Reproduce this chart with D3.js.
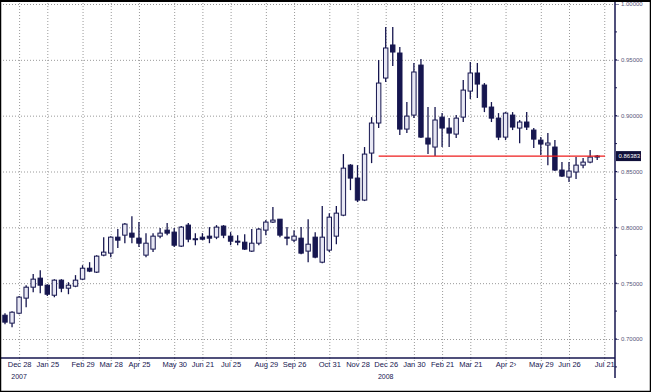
<!DOCTYPE html>
<html>
<head>
<meta charset="utf-8">
<script src="https://cdn.jsdelivr.net/npm/d3@7"></script>
<style>
  body { margin: 0; background: #fff; }
  svg { display: block; font-family: "Liberation Sans Narrow", "Liberation Sans", sans-serif; }
  .grid line { stroke: #9a9a9a; stroke-dasharray: 1,2; }
  .grid path { display: none; }
</style>
</head>
<body>
<svg id="chart"></svg>
<script>
// weekly candles, Dec 2006 - Jul 2008
var opens = [0.7213,0.7142,0.7231,0.7366,0.7464,0.7545,0.7482,0.7392,0.7527,0.7455,
  0.7473,0.7536,0.7634,0.7599,0.7751,0.7769,0.7912,0.7930,0.7948,0.7903,
  0.7751,0.7805,0.7921,0.7975,0.7957,0.7832,0.8020,0.7890,0.7912,0.7921,
  0.7912,0.8011,0.7921,0.7876,0.7867,0.7787,0.7858,0.7975,0.8047,0.8073,
  0.7912,0.7885,0.7903,0.7787,0.7912,0.7688,0.7796,0.7921,0.8109,0.8557,
  0.8441,0.8244,0.8665,0.8934,0.9337,0.9633,0.9561,0.8880,0.9005,0.9453,
  0.8799,0.8719,0.8987,0.8889,0.8835,0.8987,0.9220,0.9382,0.9274,0.9077,
  0.8978,0.8808,0.9005,0.8889,0.8943,0.8871,0.8781,0.8737,0.8719,0.8513,
  0.8450,0.8495,0.8557,0.8584,0.8629];
var highs = [0.7231,0.7249,0.7385,0.7482,0.7581,0.7616,0.7491,0.7536,0.7536,0.7509,
  0.7572,0.7661,0.7688,0.7751,0.7912,0.7921,0.7984,0.8038,0.8100,0.8047,
  0.7948,0.7948,0.7993,0.8038,0.7993,0.8011,0.8038,0.7948,0.7948,0.8002,
  0.8020,0.8020,0.7957,0.7930,0.7939,0.7984,0.7993,0.8065,0.8181,0.8073,
  0.8002,0.7975,0.8002,0.8073,0.7957,0.8190,0.8127,0.8190,0.8656,0.8566,
  0.8557,0.8719,0.8987,0.9498,0.9794,0.9794,0.9615,0.9122,0.9471,0.9507,
  0.9077,0.9077,0.9023,0.8978,0.9005,0.9319,0.9480,0.9471,0.9292,0.9122,
  0.9023,0.9032,0.9032,0.8961,0.9032,0.8889,0.8808,0.8844,0.8781,0.8584,
  0.8584,0.8629,0.8620,0.8692,0.8647];
var lows = [0.7133,0.7106,0.7222,0.7285,0.7419,0.7410,0.7384,0.7375,0.7419,0.7401,
  0.7464,0.7527,0.7599,0.7590,0.7742,0.7733,0.7814,0.7858,0.7858,0.7823,
  0.7733,0.7778,0.7903,0.7930,0.7823,0.7823,0.7867,0.7840,0.7885,0.7858,
  0.7894,0.7903,0.7840,0.7840,0.7796,0.7778,0.7840,0.7930,0.8038,0.7912,
  0.7840,0.7867,0.7760,0.7688,0.7724,0.7679,0.7778,0.7849,0.8100,0.8333,
  0.8226,0.8235,0.8575,0.8889,0.9301,0.9444,0.8826,0.8844,0.8978,0.8799,
  0.8656,0.8638,0.8719,0.8719,0.8799,0.8943,0.9149,0.9158,0.9032,0.8943,
  0.8781,0.8781,0.8871,0.8754,0.8871,0.8710,0.8647,0.8557,0.8504,0.8450,
  0.8405,0.8432,0.8530,0.8575,0.8602];
var closes = [0.7151,0.7240,0.7375,0.7464,0.7536,0.7482,0.7401,0.7527,0.7455,0.7482,
  0.7527,0.7634,0.7608,0.7742,0.7778,0.7912,0.7885,0.8029,0.7912,0.7858,
  0.7858,0.7921,0.7948,0.7948,0.7840,0.8002,0.7894,0.7898,0.7894,0.7903,
  0.8002,0.7930,0.7876,0.7867,0.7805,0.7858,0.7984,0.8047,0.8065,0.7930,
  0.7903,0.7921,0.7769,0.7849,0.7733,0.7912,0.8091,0.8127,0.8530,0.8441,
  0.8244,0.8656,0.8934,0.9292,0.9606,0.9570,0.8880,0.8996,0.9391,0.8808,
  0.8746,0.8961,0.8889,0.8844,0.8978,0.9229,0.9382,0.9283,0.9077,0.8978,
  0.8808,0.9023,0.8898,0.8943,0.8898,0.8790,0.8746,0.8755,0.8513,0.8459,
  0.8504,0.8557,0.8584,0.8629,0.8638];

var tickWeeks = [2,6,11,15,19,24,28,32,37,41,46,50,54,58,62,66,71,76,80,85];
var tickLabels = ["Dec 28","Jan 25","Feb 29","Mar 28","Apr 25","May 30","Jun 21","Jul 25",
  "Aug 29","Sep 26","Oct 31","Nov 28","Dec 26","Jan 30","Feb 21","Mar 21","Apr 2\u203A",
  "May 29","Jun 26","Jul 21"];
var yearWeeks = [2,54];
var yearLabels = ["2007","2008"];
var priceTicks = [0.70,0.75,0.80,0.85,0.90,0.95,1.00];
var lastPrice = 0.8638;
var lastPriceLabel = "0.86383";
var levelStart = 53;

var W = 651, H = 392;
var navy = "#16164f";
var axisX = 615, axisY = 358;

var svg = d3.select("#chart").attr("width", W).attr("height", H);

var x = d3.scaleLinear().domain([0, 85]).range([5, 604.25]);
var y = d3.scaleLinear().domain([0.70, 1.00]).range([339, 4]);

var data = opens.map(function (o, i) {
  return { i: i, o: o, h: highs[i], l: lows[i], c: closes[i] };
});

// grid
svg.append("g")
  .classed("grid", true)
  .attr("transform", "translate(0," + axisY + ")")
  .call(d3.axisBottom(x).tickValues(tickWeeks).tickSize(-axisY).tickFormat(""));
svg.append("g")
  .classed("grid", true)
  .call(d3.axisLeft(y).tickValues(priceTicks).tickSize(-axisX).tickFormat(""));

// bottom axis
var xAxis = d3.axisBottom(x)
  .tickValues(tickWeeks)
  .tickSize(3)
  .tickPadding(1)
  .tickFormat(function (d, i) { return tickLabels[i]; });
var xg = svg.append("g")
  .attr("transform", "translate(0," + axisY + ")")
  .call(xAxis);
xg.select(".domain").remove();
xg.selectAll("line").attr("stroke", "#9a9a9a").attr("stroke-dasharray", "1,1");
xg.selectAll("text")
  .attr("fill", navy)
  .attr("font-size", 7.5)
  .attr("font-family", "Liberation Sans Narrow, Liberation Sans, sans-serif");
svg.append("line")
  .attr("x1", 0).attr("x2", axisX)
  .attr("y1", axisY).attr("y2", axisY)
  .attr("stroke", navy).attr("stroke-width", 1.5);

svg.selectAll(".year")
  .data(yearWeeks)
  .enter()
  .append("text")
  .classed("year", true)
  .attr("x", function (d) { return x(d); })
  .attr("y", 379)
  .attr("text-anchor", "middle")
  .attr("font-size", 7)
  .attr("fill", navy)
  .text(function (d, i) { return yearLabels[i]; });

// right axis
var yAxis = d3.axisRight(y)
  .tickValues(priceTicks)
  .tickSize(4)
  .tickFormat(d3.format(".5f"));
var yg = svg.append("g")
  .attr("transform", "translate(" + axisX + ",0)")
  .call(yAxis);
yg.select(".domain").remove();
yg.selectAll("line").attr("stroke", "#8a8aa8");
yg.selectAll("text")
  .attr("fill", "#55557a")
  .attr("font-size", 6)
  .attr("x", 6);
// minor ticks
svg.append("g")
  .selectAll("line")
  .data(d3.range(0.675, 1.0, 0.025))
  .enter()
  .append("line")
  .attr("x1", axisX).attr("x2", axisX + 2)
  .attr("y1", function (d) { return y(d); })
  .attr("y2", function (d) { return y(d); })
  .attr("stroke", navy);
svg.append("line")
  .attr("x1", axisX).attr("x2", axisX)
  .attr("y1", 2).attr("y2", 378)
  .attr("stroke", navy).attr("stroke-width", 1.5);

// candles
var g = svg.append("g").classed("candles", true);
g.selectAll(".wick")
  .data(data)
  .enter()
  .append("line")
  .classed("wick", true)
  .attr("x1", function (d) { return x(d.i); })
  .attr("x2", function (d) { return x(d.i); })
  .attr("y1", function (d) { return y(d.h); })
  .attr("y2", function (d) { return y(d.l); })
  .attr("stroke", navy)
  .attr("stroke-width", 1.3);
g.selectAll(".body")
  .data(data)
  .enter()
  .append("rect")
  .classed("body", true)
  .attr("x", function (d) { return x(d.i) - 2.2; })
  .attr("width", 4.4)
  .attr("y", function (d) { return y(Math.max(d.o, d.c)); })
  .attr("height", function (d) { return Math.max(1, Math.abs(y(d.o) - y(d.c))); })
  .attr("fill", function (d) { return d.c >= d.o ? "#e8e8f4" : navy; })
  .attr("stroke", navy)
  .attr("stroke-width", 1);

// last price level
svg.append("line")
  .attr("x1", x(levelStart)).attr("x2", axisX - 10)
  .attr("y1", y(lastPrice)).attr("y2", y(lastPrice))
  .attr("stroke", "#ee1c1c").attr("stroke-width", 1.2);
svg.append("rect")
  .attr("x", axisX + 1).attr("y", y(lastPrice) - 5)
  .attr("width", 25).attr("height", 10)
  .attr("fill", "#10103a");
svg.append("text")
  .attr("x", axisX + 3.5).attr("y", y(lastPrice) + 2.3)
  .attr("font-size", 6)
  .attr("fill", "#fff")
  .text(lastPriceLabel);

// frame
svg.append("rect")
  .attr("x", 0.5).attr("y", 0.5)
  .attr("width", W - 1).attr("height", H - 1)
  .attr("fill", "none")
  .attr("stroke", "#000")
  .attr("stroke-width", 1.5);
svg.append("line")
  .attr("x1", 0).attr("x2", W).attr("y1", 1).attr("y2", 1)
  .attr("stroke", "#000").attr("stroke-width", 2);
</script>
</body>
</html>
